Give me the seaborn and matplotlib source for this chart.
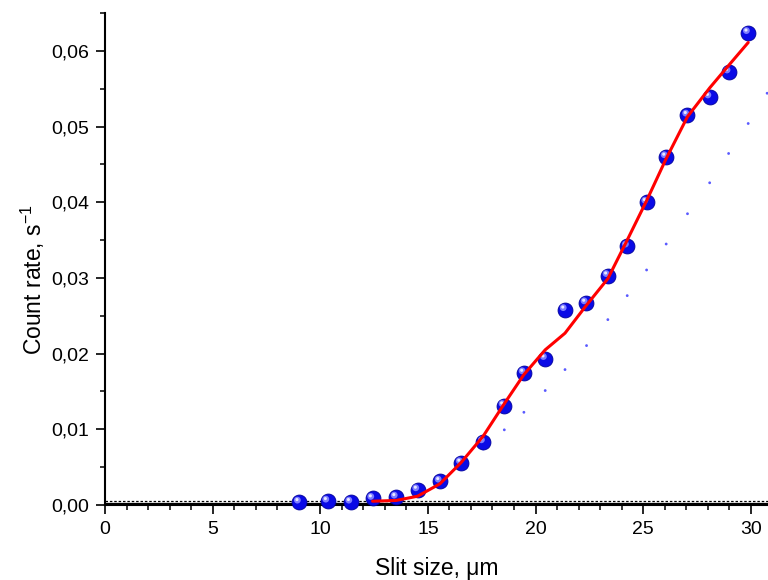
"""
Count rate vs slit size - recreated chart
"""
import numpy as np
import pandas as pd
import matplotlib
matplotlib.use('Agg')
import matplotlib.pyplot as plt
import matplotlib.transforms as mtransforms
from matplotlib.ticker import MultipleLocator, FuncFormatter
import seaborn as sns

# ============================================================================
# DATA
# ============================================================================
slit_size = [9.02, 10.34, 11.41, 12.43, 13.52, 14.52, 15.56, 16.54, 17.57, 18.53,
             19.46, 20.45, 21.37, 22.34, 23.36, 24.26, 25.16, 26.06, 27.06, 28.09,
             28.98, 29.88]
count_rate = [0.00037, 0.0005, 0.00037, 0.00086, 0.00103, 0.0020, 0.00314, 0.00557,
              0.00834, 0.01313, 0.01745, 0.01934, 0.0258, 0.0267, 0.0303, 0.0342,
              0.0400, 0.0460, 0.0515, 0.0539, 0.0572, 0.0624]

fit_x = [12.43, 13.52, 14.52, 15.56, 16.54, 17.57, 18.53, 19.46, 20.45, 21.37,
         22.34, 23.36, 24.26, 25.16, 26.06, 27.06, 28.09, 28.98, 29.88]
fit_y = [0.0005, 0.0006, 0.00116, 0.0028, 0.0056, 0.0091, 0.0133, 0.01723, 0.0205,
         0.0227, 0.0263, 0.0299, 0.0350, 0.0402, 0.0457, 0.0513, 0.0551, 0.0581, 0.0611]

# small offset dots
dot_x = [17.57, 18.55, 19.46, 20.45, 21.37, 22.37, 23.36, 24.26, 25.16, 26.07,
         27.06, 28.09, 28.97, 29.88, 30.76]
dot_y = [0.0074, 0.00993, 0.01225, 0.01512, 0.01789, 0.02106, 0.02449, 0.02766,
         0.03105, 0.03448, 0.03848, 0.04257, 0.04644, 0.0504, 0.0544]

baseline_dashed = 0.00053
baseline_solid = 0.00026

df_pts = pd.DataFrame({'x': slit_size, 'y': count_rate})
df_fit = pd.DataFrame({'x': fit_x, 'y': fit_y})
df_dot = pd.DataFrame({'x': dot_x, 'y': dot_y})

# ============================================================================
# STYLE
# ============================================================================
sns.set_style('ticks')
plt.rcParams['font.family'] = ['Liberation Sans', 'DejaVu Sans']
plt.rcParams['mathtext.fontset'] = 'custom'
plt.rcParams['mathtext.rm'] = 'Liberation Sans'
for k in ['text.color', 'axes.labelcolor', 'xtick.color', 'ytick.color', 'axes.edgecolor']:
    plt.rcParams[k] = 'black'

fig = plt.figure(figsize=(7.68, 5.8), dpi=100)
ax = fig.add_axes([105 / 768, 75 / 580, 663 / 768, 492 / 580])

# ============================================================================
# PLOT
# ============================================================================
ax.axhline(baseline_solid, color='black', lw=0.9, zorder=1)
ax.axhline(baseline_dashed, color='black', lw=0.9, ls=(0, (2, 1.5)), zorder=1)

sns.scatterplot(data=df_dot, x='x', y='y', ax=ax, s=4, color='#5a5aff',
                edgecolor='none', linewidth=0, zorder=2, clip_on=False)

# spheres: dark blue body + offset highlight
sns.scatterplot(data=df_pts, x='x', y='y', ax=ax, s=115, color='#0a0ae6',
                edgecolor='#00009a', linewidth=0.6, zorder=3, clip_on=False)
hl = mtransforms.offset_copy(ax.transData, fig=fig, x=-1.3, y=1.5, units='points')
ax.scatter(df_pts['x'], df_pts['y'], s=24, color='#7d7dff', edgecolors='none',
           transform=hl, zorder=4, clip_on=False)
hl2 = mtransforms.offset_copy(ax.transData, fig=fig, x=-1.6, y=1.9, units='points')
ax.scatter(df_pts['x'], df_pts['y'], s=5, color='#e8e8ff', edgecolors='none',
           transform=hl2, zorder=5, clip_on=False)

sns.lineplot(data=df_fit, x='x', y='y', ax=ax, color='#ff0000', lw=2.2,
             zorder=6, sort=False)

# ============================================================================
# AXES
# ============================================================================
ax.set_xlim(0, 30.8)
ax.set_ylim(0, 0.065)
sns.despine(ax=ax)
for s in ['left', 'bottom']:
    ax.spines[s].set_linewidth(1.5)

ax.xaxis.set_major_locator(MultipleLocator(5))
ax.xaxis.set_minor_locator(MultipleLocator(1))
ax.yaxis.set_major_locator(MultipleLocator(0.01))
ax.yaxis.set_minor_locator(MultipleLocator(0.005))
ax.yaxis.set_major_formatter(FuncFormatter(lambda v, p: f'{v:.2f}'.replace('.', ',')))
ax.xaxis.set_major_formatter(FuncFormatter(lambda v, p: f'{v:g}'))

ax.tick_params(which='major', length=6.5, width=1.2, labelsize=14, pad=5,
               direction='out', color='black')
ax.tick_params(which='minor', length=3.6, width=1.1, direction='out', color='black')

ax.set_xlabel('Slit size, μm', fontsize=16.5)
ax.set_ylabel('Count rate, s$^{\\mathregular{-1}}$', fontsize=16.5)
ax.xaxis.set_label_coords(0.5, -0.106)
ax.xaxis.label.set_va('top')
ax.yaxis.set_label_coords(-0.0875, 0.457)

plt.savefig('out.png', dpi=100)
plt.close()
